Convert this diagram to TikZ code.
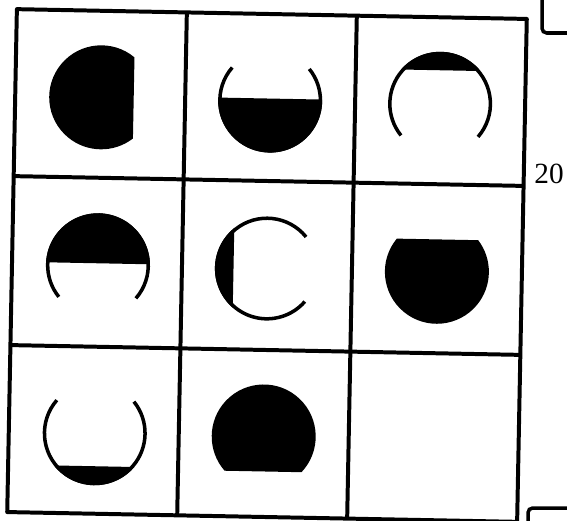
\documentclass[tikz,border=0pt]{standalone}
\usepackage{fontspec}
\usepackage{tikz}
\usetikzlibrary{calc}
\newfontfamily\numfont{Liberation Serif}

\begin{document}
\begin{tikzpicture}[
  x = 0.03cm, y = 0.03cm,
  gridline/.style   = {line width=3.4pt, line join=round},
  rim/.style        = {line width=3pt},
  blob/.style       = {fill=black},
  cornermark/.style = {line width=3pt, rounded corners=4pt},
  pagenum/.style    = {font=\numfont\fontsize{25}{25}\selectfont, inner sep=0pt},
]
\def\R{52}     % outer radius of a disc
\def\Rr{50.3}  % radius of the rim stroke

%% ─── page frame ───────────────────────────────────────────────────────────
\path[use as bounding box] (0,0) rectangle (567,520);
\clip (0,0) rectangle (567,520);

%% ─── the 3x3 board (scan is a little skewed) ──────────────────────────────
\begin{scope}[rotate around={-1.1:(267,254.5)}]
  \draw[gridline] (12,3) rectangle (522,506);
  \foreach \x in {182,352}
    \draw[gridline] (\x,3) -- (\x,506);
  \foreach \y in {170,339}
    \draw[gridline] (12,\y) -- (522,\y);

  % centres of the discs, one per cell
  \foreach \r/\yy in {1/419.5, 2/251.5, 3/83.5}
    \foreach \c/\xx in {1/98, 2/267, 3/437}
      \coordinate (o\r\c) at (\xx,\yy);

  %% row 1
  \fill[blob] (o11) ++(51.3:\R) arc[start angle=51.3, end angle=308.7, radius=\R] -- cycle;

  \fill[blob] (o12) ++(177.8:\R) arc[start angle=177.8, end angle=362.2, radius=\R] -- cycle;
  \draw[rim]  (o12) ++(140:\Rr) arc[start angle=140, end angle=400, radius=\Rr];

  \fill[blob] (o13) ++(40.2:\R) arc[start angle=40.2, end angle=139.8, radius=\R] -- cycle;
  \draw[rim]  (o13) ++(-40:\Rr) arc[start angle=-40, end angle=220, radius=\Rr];

  %% row 2
  \fill[blob] (o21) ++(2.2:\R) arc[start angle=2.2, end angle=177.8, radius=\R] -- cycle;
  \draw[rim]  (o21) ++(-40:\Rr) arc[start angle=-40, end angle=220, radius=\Rr];

  \fill[blob] (o22) ++(130:\R) arc[start angle=130, end angle=230, radius=\R] -- cycle;
  \draw[rim]  (o22) ++(40:\Rr) arc[start angle=40, end angle=320, radius=\Rr];

  \fill[blob] (o23) ++(141.5:\R) arc[start angle=141.5, end angle=398.5, radius=\R] -- cycle;

  %% row 3
  \fill[blob] (o31) ++(219.4:\R) arc[start angle=219.4, end angle=320.6, radius=\R] -- cycle;
  \draw[rim]  (o31) ++(140:\Rr) arc[start angle=140, end angle=400, radius=\Rr];

  \fill[blob] (o32) ++(-42.3:\R) arc[start angle=-42.3, end angle=222.3, radius=\R] -- cycle;
  % cell 3/3 stays empty
\end{scope}

%% ─── margin: page number and crop corners ─────────────────────────────────
\node[pagenum] (pg) at (549,346) {20};

\coordinate (tr) at (542,487);
\coordinate (br) at (528,12);
\draw[cornermark] (tr |- 0,530) -- (tr) -- (580,487);
\draw[cornermark] (br |- 0,-10) -- (br) -- (580,12);

\end{tikzpicture}
\end{document}
